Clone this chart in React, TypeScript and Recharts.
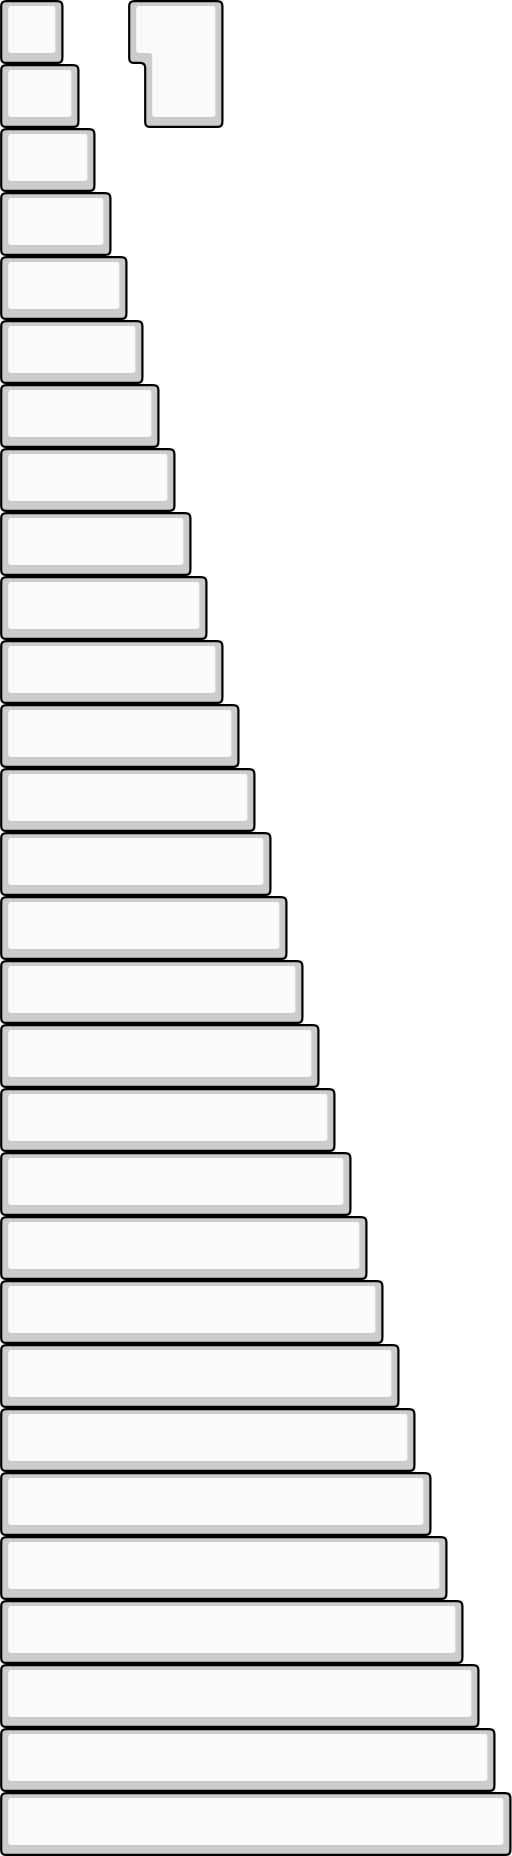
import React from 'react';
import { BarChart, Bar, XAxis, YAxis, ReferenceArea } from 'recharts';

const KEYS = [
  'k01', 'k02', 'k03', 'k04', 'k05', 'k06', 'k07', 'k08', 'k09', 'k10',
  'k11', 'k12', 'k13', 'k14', 'k15', 'k16', 'k17', 'k18', 'k19', 'k20',
  'k21', 'k22', 'k23', 'k24', 'k25', 'k26', 'k27', 'k28', 'k29',
];
const VALUES = [
  4, 5, 6, 7, 8, 9, 10, 11, 12, 13,
  14, 15, 16, 17, 18, 19, 20, 21, 22, 23,
  24, 25, 26, 27, 28, 29, 30, 31, 32,
];
const X_DOMAIN: [number, number] = [0, 32];

// Enter-shaped key spanning the first two rows
const ENTER_ROWS = ['k01', 'k02'];
const ENTER_TOP_LEFT = 8;
const ENTER_BOTTOM_LEFT = 9;
const ENTER_RIGHT = 14;

const data = KEYS.map((key, i) => ({ key, value: VALUES[i] }));

const STROKE = '#000000';
const SHADOW = '#cccccc';
const FACE = '#fafafa';
const SW = 2.2;

type Pt = [number, number];

function roundedPath(pts: Pt[], r: number): string {
  const n = pts.length;
  let d = '';
  for (let i = 0; i < n; i++) {
    const p = pts[i];
    const prev = pts[(i - 1 + n) % n];
    const next = pts[(i + 1) % n];
    const v1x = prev[0] - p[0];
    const v1y = prev[1] - p[1];
    const v2x = next[0] - p[0];
    const v2y = next[1] - p[1];
    const l1 = Math.hypot(v1x, v1y) || 1;
    const l2 = Math.hypot(v2x, v2y) || 1;
    const r1 = Math.min(r, l1 / 2);
    const r2 = Math.min(r, l2 / 2);
    const a: Pt = [p[0] + (v1x / l1) * r1, p[1] + (v1y / l1) * r1];
    const b: Pt = [p[0] + (v2x / l2) * r2, p[1] + (v2y / l2) * r2];
    d += (i === 0 ? 'M' : 'L') + a[0] + ',' + a[1] + ' Q' + p[0] + ',' + p[1] + ' ' + b[0] + ',' + b[1] + ' ';
  }
  return d + 'Z';
}

function rectPts(l: number, t: number, r: number, b: number): Pt[] {
  return [
    [l, t],
    [r, t],
    [r, b],
    [l, b],
  ];
}

const KeyShape = (props: any) => {
  const { x, y, width, height } = props;
  if (width == null || height == null || width <= 0) return <g />;
  const L = x + 1.2;
  const R = x + width - 1.6;
  const T = y + 1.1;
  const B = y + height - 1.1;
  return (
    <g>
      <path d={roundedPath(rectPts(L, T, R, B), 5)} fill={SHADOW} stroke={STROKE} strokeWidth={SW} />
      <path d={roundedPath(rectPts(L + 7, T + 5, R - 7, B - 10), 3)} fill={FACE} stroke="none" />
    </g>
  );
};

const EnterShape = (props: any) => {
  const { x, y, width, height } = props;
  if (width == null || height == null) return <g />;
  const frac = (ENTER_BOTTOM_LEFT - ENTER_TOP_LEFT) / (ENTER_RIGHT - ENTER_TOP_LEFT);
  const L = x + 1.2;
  const L2 = x + width * frac + 1.2;
  const R = x + width - 1.6;
  const T = y + 1.1;
  const B = y + height - 1.1;
  const M = y + height / 2 - 1.1;
  const outer: Pt[] = [
    [L, T],
    [R, T],
    [R, B],
    [L2, B],
    [L2, M],
    [L, M],
  ];
  const inner: Pt[] = [
    [L + 7, T + 5],
    [R - 7, T + 5],
    [R - 7, B - 10],
    [L2 + 7, B - 10],
    [L2 + 7, M - 10],
    [L + 7, M - 10],
  ];
  return (
    <g>
      <path d={roundedPath(outer, 5)} fill={SHADOW} stroke={STROKE} strokeWidth={SW} />
      <path d={roundedPath(inner, 3)} fill={FACE} stroke="none" />
    </g>
  );
};

export default function App() {
  return (
    <div style={{ position: 'absolute', left: 0, top: 0, width: 512, height: 1856, background: '#ffffff' }}>
      <BarChart
        width={512}
        height={1856}
        data={data}
        layout="vertical"
        margin={{ top: 0, right: 0, bottom: 0, left: 0 }}
        barCategoryGap={0}
        barGap={0}
      >
        <XAxis type="number" domain={X_DOMAIN} hide allowDataOverflow />
        <YAxis type="category" dataKey="key" hide />
        <Bar dataKey="value" isAnimationActive={false} shape={KeyShape} />
        <ReferenceArea
          x1={ENTER_TOP_LEFT}
          x2={ENTER_RIGHT}
          y1={ENTER_ROWS[0]}
          y2={ENTER_ROWS[1]}
          ifOverflow="visible"
          shape={EnterShape}
        />
      </BarChart>
    </div>
  );
}
